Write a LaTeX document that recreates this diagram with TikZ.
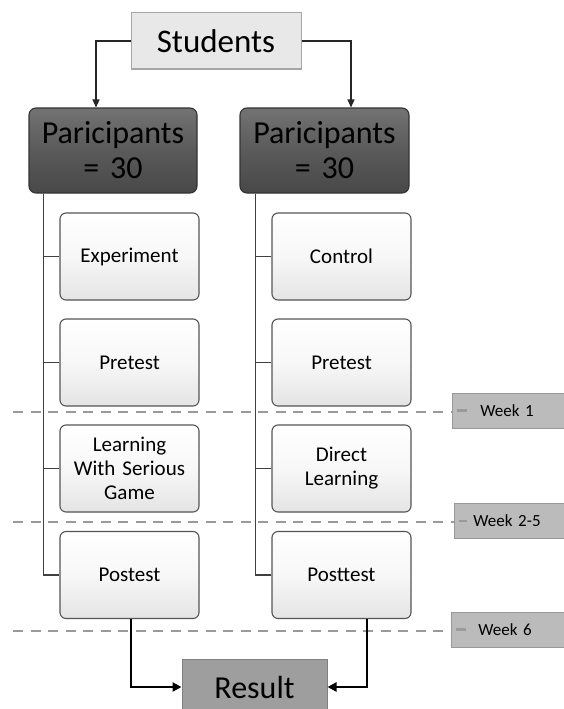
\documentclass[tikz,border=0pt]{standalone}
\usepackage{fontspec}
\setmainfont{Carlito}[WordSpace=0.75]
\usetikzlibrary{arrows.meta,calc}
\definecolor{boxline}{HTML}{555555}
\definecolor{lightfill}{HTML}{E4E4E4}
\definecolor{darkfill}{HTML}{5A5A5A}
\definecolor{tagfill}{HTML}{BBBBBB}
\definecolor{dashcol}{HTML}{9A9A9A}
\tikzset{
  lightbox/.style={draw=boxline, line width=1.1pt, rounded corners=6pt,
    top color=white, bottom color=lightfill, middle color=white!97!black,
    minimum width=139pt, minimum height=87pt, text width=125pt, align=center,
    font=\fontsize{21}{24}\selectfont, inner sep=2pt},
  partbox/.style={draw=black!80, line width=1.1pt, rounded corners=7pt,
    top color=darkfill!85!white, bottom color=darkfill!80!black, middle color=darkfill,
    minimum width=168pt, minimum height=85pt, text width=160pt, align=center,
    font=\fontsize{32}{35}\selectfont, inner sep=1pt},
  topbox/.style={draw=black!35, line width=1pt, fill=black!9,
    minimum width=170pt, minimum height=56pt, font=\fontsize{33}{36}\selectfont},
  resbox/.style={draw=black!50, line width=1pt, fill=black!38,
    minimum width=145pt, minimum height=56pt, font=\fontsize{32}{36}\selectfont},
  tagbox/.style={draw=black!40, line width=0.8pt, fill=tagfill, anchor=west,
    minimum width=125pt, minimum height=35pt, text width=115pt, align=left,
    font=\fontsize{17}{19}\selectfont, inner sep=0pt},
  weekline/.style={draw=dashcol, line width=2.2pt, dash pattern=on 10pt off 7.5pt},
  tagdash/.style={draw=dashcol, line width=2.2pt},
  trunk/.style={draw=black!75, line width=1.4pt},
  toparrow/.style={draw=black!85, line width=1.3pt, -{Triangle[length=8pt,width=7pt]}},
  botarrow/.style={draw=black, line width=2.6pt, -{Triangle[length=9pt,width=9pt]}},
}
\begin{document}
\begin{tikzpicture}[x=1pt,y=-1pt]
\clip (0,0) rectangle (564,709);
\fill[white] (0,0) rectangle (564,709);

% week separators
\coordinate (w1a) at (13,412);
\coordinate (w1b) at (452,412);
\coordinate (w2a) at (13,522);
\coordinate (w2b) at (454,522);
\coordinate (w3a) at (13,631);
\coordinate (w3b) at (451,631);
\draw[weekline] (w1a) -- (w1b);
\draw[weekline] (w2a) -- (w2b);
\draw[weekline] (w3a) -- (w3b);

% nodes
\node[topbox] (stu) at (216,41) {Students};
\node[partbox] (pl) at (113,150.5) {Paricipants\\= 30};
\node[partbox, minimum width=169pt] (pr) at (324.5,150.5) {Paricipants\\= 30};

\node[lightbox] (exp) at (129.5,256.5) {Experiment};
\node[lightbox] (ctl) at (341.5,256.5) {Control};
\node[lightbox] (pre1) at (129.5,362.5) {Pretest};
\node[lightbox] (pre2) at (341.5,362.5) {Pretest};
\node[lightbox] (lrn1) at (129.5,468.5) {Learning\\With Serious\\Game};
\node[lightbox] (lrn2) at (341.5,468.5) {Direct\\Learning};
\node[lightbox] (pst1) at (129.5,575) {Postest};
\node[lightbox] (pst2) at (341.5,575) {Posttest};

\node[resbox] (res) at (254.5,687) {Result};

\node[tagbox] (t1) at (452,410.5) {\hspace*{23pt}Week 1};
\node[tagbox] (t2) at (454,521) {\hspace*{14pt}Week 2-5};
\node[tagbox] (t3) at (451,629.5) {\hspace*{22pt}Week 6};
\draw[tagdash] ([xshift=5pt]t1.west) -- ([xshift=15pt]t1.west);
\draw[tagdash] ([xshift=5pt]t2.west) -- ([xshift=13pt]t2.west);
\draw[tagdash] ([xshift=5pt]t3.west) -- ([xshift=15pt]t3.west);

% top arrows
\draw[toparrow] (stu.west) -| ([xshift=-17pt]pl.north);
\draw[toparrow] (stu.east) -| ([xshift=26.5pt]pr.north);

% trunks
\coordinate (tl) at ([xshift=15pt]pl.south west);
\coordinate (tr) at ([xshift=16pt]pr.south west);
\draw[trunk] (tl) |- (pst1.west);
\draw[trunk] (tr) |- (pst2.west);
\draw[trunk] (exp.west) -- (exp.west -| tl);
\draw[trunk] (pre1.west) -- (pre1.west -| tl);
\draw[trunk] (lrn1.west) -- (lrn1.west -| tl);
\draw[trunk] (ctl.west) -- (ctl.west -| tr);
\draw[trunk] (pre2.west) -- (pre2.west -| tr);
\draw[trunk] (lrn2.west) -- (lrn2.west -| tr);

% bottom arrows
\draw[botarrow] ([xshift=1.5pt]pst1.south) |- (res.west);
\draw[botarrow] ([xshift=25.5pt]pst2.south) |- (res.east);
\end{tikzpicture}
\end{document}
